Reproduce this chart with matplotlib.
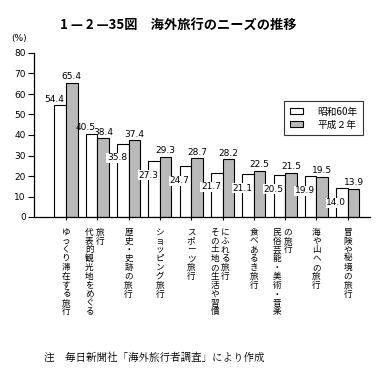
import matplotlib
matplotlib.use("Agg")
import matplotlib.pyplot as plt
import matplotlib.transforms as mtransforms
import numpy as np

plt.rcParams['font.family'] = ['Noto Sans CJK JP', 'DejaVu Sans']

# ---- data ----
categories = [
    ["ゆっくり滞在する旅行"],
    ["代表的観光地をめぐる", "旅行"],
    ["歴史・史跡の旅行"],
    ["ショッピング旅行"],
    ["スポーツ旅行"],
    ["その土地の生活や習慣", "にふれる旅行"],
    ["食べあるき旅行"],
    ["民俗芸能・美術・音楽", "の旅行"],
    ["海や山への旅行"],
    ["冒険や秘境の旅行"],
]
series_names = ["昭和60年", "平成２年"]
s60 = [54.4, 40.5, 35.8, 27.3, 24.7, 21.7, 21.1, 20.5, 19.9, 14.0]
h2 = [65.4, 38.4, 37.4, 29.3, 28.7, 28.2, 22.5, 21.5, 19.5, 13.9]
yticks = [0, 10, 20, 30, 40, 50, 60, 70, 80]

W, H = 392, 378
fig = plt.figure(figsize=(W / 100, H / 100), dpi=100)
ax = fig.add_axes([34 / W, 1 - 217 / H, (370 - 34) / W, (217 - 53) / H])

x = np.arange(len(s60))
bw = 0.37
gray = '#b9b9b9'
ax.bar(x - bw / 2, s60, width=bw, color='white', edgecolor='black', linewidth=0.8,
       label=series_names[0], zorder=2)
ax.bar(x + bw / 2, h2, width=bw, color=gray, edgecolor='black', linewidth=0.8,
       label=series_names[1], zorder=2)

num_font = dict(family='DejaVu Sans', fontsize=6.5)
for xi, v in zip(x, s60):
    if v > 38:
        ax.text(xi - bw, v + 0.8, f"{v:.1f}", ha='center', va='bottom', zorder=4, **num_font)
    else:
        ax.text(xi - bw, v - 7, f"{v:.1f}", ha='center', va='center', zorder=4,
                bbox=dict(facecolor='white', edgecolor='none', pad=0.3), **num_font)
for xi, v in zip(x, h2):
    ax.text(xi + bw / 2, v + 0.8, f"{v:.1f}", ha='center', va='bottom', zorder=4, **num_font)

ax.set_xlim(-1.02, 9.71)
ax.set_ylim(0, 80)
ax.set_yticks(yticks)
ax.set_yticklabels([str(t) for t in yticks], family='DejaVu Sans', fontsize=6.5)
ax.set_xticks(x)
ax.set_xticklabels([])
ax.tick_params(axis='y', direction='out', length=4, width=0.8, pad=2)
ax.tick_params(axis='x', direction='out', length=2.5, width=0.8)
for s in ['top', 'right']:
    ax.spines[s].set_visible(False)
for s in ['left', 'bottom']:
    ax.spines[s].set_linewidth(0.9)

# vertical category labels
trans = mtransforms.blended_transform_factory(ax.transData, ax.transAxes)
for xi, cols in zip(x, categories):
    if len(cols) == 1:
        offs = [0.0]
    else:
        offs = [-0.25, 0.08]
    for off, col in zip(offs, cols):
        ax.text(xi + off, -0.065, "\n".join(col), transform=trans, ha='center', va='top',
                fontsize=6.2, linespacing=0.98)

ax.text(-0.045, 1.06, "(%)", transform=ax.transAxes, ha='center', va='bottom',
        family='DejaVu Sans', fontsize=6.5)

leg = ax.legend(loc='upper right', bbox_to_anchor=(368 / W, 1 - 96 / H), bbox_transform=fig.transFigure,
                fontsize=7, frameon=True, fancybox=False, edgecolor='black', handlelength=1.4,
                handleheight=0.6, borderpad=0.6, labelspacing=0.3, handletextpad=1.4)
leg.get_frame().set_linewidth(0.8)

fig.text(178 / W, 1 - 25 / H, "1 — 2 —35図　海外旅行のニーズの推移", ha='center', va='center',
         fontsize=9.5, fontweight='bold')
fig.text(44 / W, 1 - 358 / H, "注　毎日新聞社「海外旅行者調査」により作成", ha='left', va='center',
         fontsize=7.6, family=['Noto Serif CJK JP', 'Noto Sans CJK JP', 'DejaVu Sans'])

fig.savefig("out.png", dpi=100)
